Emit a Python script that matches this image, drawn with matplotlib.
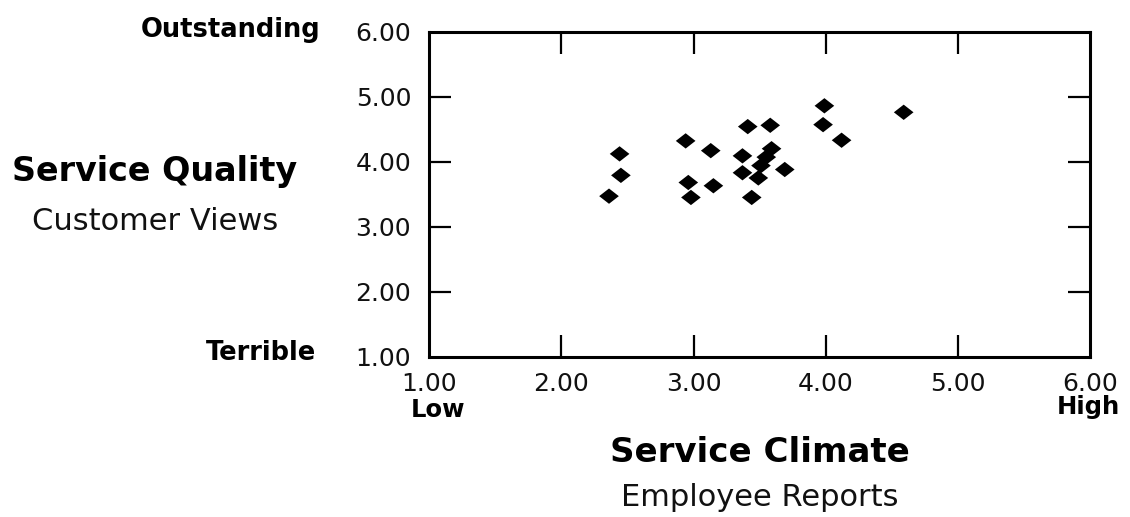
import matplotlib
matplotlib.use("Agg")
import matplotlib.pyplot as plt
from matplotlib.path import Path

# Data
service_climate = [2.44, 2.45, 2.36, 2.94, 3.13, 2.96, 2.98, 3.15, 3.41, 3.58,
                   3.37, 3.59, 3.55, 3.51, 3.37, 3.49, 3.69, 3.44, 3.99, 3.98,
                   4.12, 4.59]
service_quality = [4.12, 3.79, 3.47, 4.32, 4.17, 3.68, 3.45, 3.63, 4.54, 4.56,
                   4.09, 4.20, 4.07, 3.94, 3.83, 3.75, 3.88, 3.45, 4.86, 4.57,
                   4.33, 4.76]
ticks = [1, 2, 3, 4, 5, 6]
tick_labels = ["1.00", "2.00", "3.00", "4.00", "5.00", "6.00"]

W, H = 1130, 517
fig = plt.figure(figsize=(W / 100, H / 100), dpi=100)
fig.patch.set_facecolor("white")

def fx(px):
    return px / W

def fy(py):
    return 1 - py / H

ax = fig.add_axes([fx(429.3), fy(356.7), fx(1090) - fx(429.3), fy(31.7) - fy(356.7)])
ax.set_xlim(1, 6)
ax.set_ylim(1, 6)

diamond = Path([(-1, 0), (0, 0.78), (1, 0), (0, -0.78), (-1, 0)],
               [Path.MOVETO, Path.LINETO, Path.LINETO, Path.LINETO, Path.CLOSEPOLY])
ax.scatter(service_climate, service_quality, marker=diamond, s=200,
           color="black", edgecolors="none", zorder=3, clip_on=False)

for sp in ax.spines.values():
    sp.set_linewidth(2.2)
    sp.set_color("black")

ax.set_xticks(ticks)
ax.set_xticklabels(tick_labels)
ax.set_yticks(ticks)
ax.set_yticklabels(tick_labels)
ax.tick_params(axis="both", which="major", direction="in", length=16, width=1.6,
               top=True, right=True, labelsize=18, color="black", labelcolor="#111111")
ax.tick_params(axis="x", pad=11)
ax.tick_params(axis="y", pad=13)
xt = ax.xaxis.get_major_ticks()
yt = ax.yaxis.get_major_ticks()
for t in (xt[0], xt[-1], yt[0], yt[-1]):
    t.tick1line.set_visible(False)
    t.tick2line.set_visible(False)

bold = dict(fontweight="bold", color="black", family="DejaVu Sans")
reg = dict(fontweight="normal", color="#111111", family="DejaVu Sans")

fig.text(fx(320), fy(30), "Outstanding", ha="right", va="center", fontsize=18.5, **bold)
fig.text(fx(316), fy(353), "Terrible", ha="right", va="center", fontsize=18.5, **bold)
fig.text(fx(155), fy(172), "Service Quality", ha="center", va="center", fontsize=24, **bold)
fig.text(fx(155), fy(221), "Customer Views", ha="center", va="center", fontsize=22, **reg)
fig.text(fx(438), fy(410), "Low", ha="center", va="center", fontsize=17.5, **bold)
fig.text(fx(1120), fy(407), "High", ha="right", va="center", fontsize=17.5, **bold)
fig.text(fx(760), fy(452), "Service Climate", ha="center", va="center", fontsize=24.5, **bold)
fig.text(fx(760), fy(497), "Employee Reports", ha="center", va="center", fontsize=22, **reg)

fig.savefig("out.png", dpi=100, facecolor="white")
